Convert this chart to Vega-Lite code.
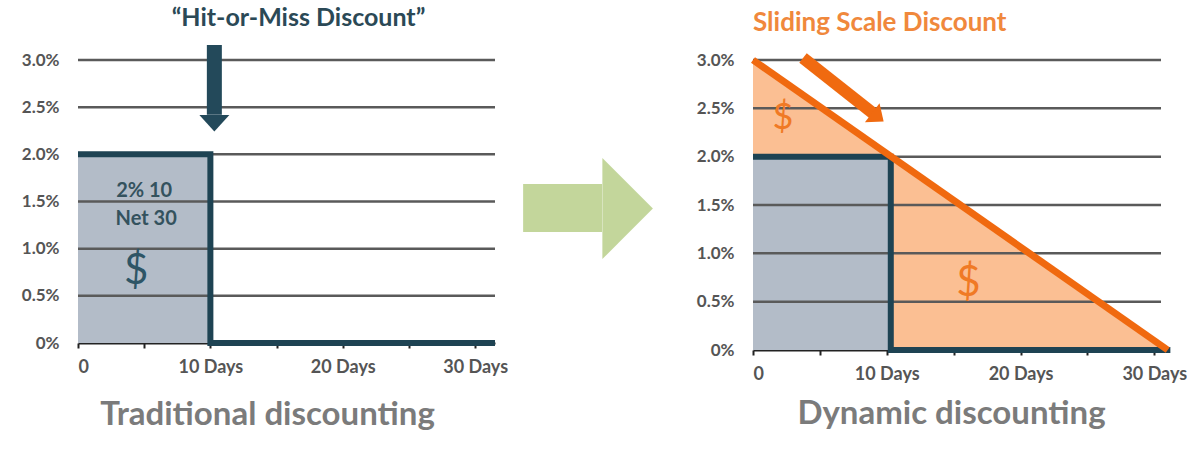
{
  "$schema": "https://vega.github.io/schema/vega-lite/v6.json",
  "background": "white",
  "padding": {"left": 21, "top": 6, "right": 0, "bottom": 0},
  "bounds": "flush",
  "spacing": 0,
  "config": {
    "view": {"stroke": null},
    "font": "Lato",
    "axisX": {"domainColor": "#222222", "domainWidth": 2, "tickColor": "#222222", "tickWidth": 2, "tickSize": 5, "labelFontSize": 18, "labelFontWeight": "bold", "labelColor": "#555555", "labelPadding": 10, "titleFontSize": 33, "titleFontWeight": "bold", "titleColor": "#7b7b7b", "grid": false, "zindex": 1},
    "axisY": {"domain": false, "ticks": false, "grid": false, "labelFontSize": 17, "labelFontWeight": "bold", "labelColor": "#555555", "labelPadding": 19}
  },
  "hconcat": [
    {
      "width": 417,
      "height": 283,
      "title": {"text": "“Hit-or-Miss Discount”", "fontSize": 25, "fontWeight": "bold", "color": "#2b4956", "offset": 6, "dx": 12, "frame": "group", "font": "Lato"},
      "layer": [
        {
          "data": {"values": [{"x": 0, "x2": 10, "y": 0, "y2": 2}]},
          "mark": {"type": "rect", "color": "#b3bcc8"},
          "encoding": {
            "x": {"field": "x", "type": "quantitative", "scale": {"domain": [0, 31.5], "nice": false},
              "axis": {"values": [0, 5, 10, 15, 20, 25, 30], "labelExpr": "datum.value == 0 ? '0' : (datum.value % 10 == 0 ? datum.value + ' Days' : '')", "title": "Traditional discounting", "titleX": 189, "titlePadding": 22}},
            "x2": {"field": "x2"},
            "y": {"field": "y", "type": "quantitative", "scale": {"domain": [0, 3], "nice": false},
              "axis": {"values": [0, 0.5, 1, 1.5, 2, 2.5, 3], "labelExpr": "datum.value == 0 ? '0%' : format(datum.value, '.1f') + '%'", "title": null}},
            "y2": {"field": "y2"}
          }
        },
        {
          "data": {"values": [{"y": 0.5}, {"y": 1}, {"y": 1.5}, {"y": 2}, {"y": 2.5}, {"y": 3}]},
          "mark": {"type": "rule", "color": "#5a5a5a", "strokeWidth": 2.5},
          "encoding": {"y": {"field": "y", "type": "quantitative"}}
        },
        {
          "data": {"values": [{"i": 0, "x": 0, "y": 2}, {"i": 1, "x": 10, "y": 2}, {"i": 2, "x": 10, "y": 0}, {"i": 3, "x": 31.5, "y": 0}]},
          "mark": {"type": "line", "color": "#1e4353", "strokeWidth": 6, "strokeJoin": "miter", "strokeCap": "butt"},
          "encoding": {"x": {"field": "x", "type": "quantitative"}, "y": {"field": "y", "type": "quantitative"}, "order": {"field": "i"}}
        },
        {
          "data": {"values": [{"x": 10.3, "y": 3.16, "y2": 2.42}]},
          "mark": {"type": "rule", "color": "#23495a", "strokeWidth": 15, "strokeCap": "butt"},
          "encoding": {"x": {"field": "x", "type": "quantitative"}, "y": {"field": "y", "type": "quantitative"}, "y2": {"field": "y2"}}
        },
        {
          "data": {"values": [{"x": 10.3, "y": 2.33}]},
          "mark": {"type": "point", "shape": "M-1,-0.55L1,-0.55L0,0.55Z", "size": 900, "filled": true, "opacity": 1, "color": "#23495a"},
          "encoding": {"x": {"field": "x", "type": "quantitative"}, "y": {"field": "y", "type": "quantitative"}}
        },
        {
          "data": {"values": [{"x": 5, "y": 1.61, "t": "2% 10"}, {"x": 5.15, "y": 1.31, "t": "Net 30"}]},
          "mark": {"type": "text", "fontSize": 20, "fontWeight": "bold", "color": "#34525e"},
          "encoding": {"x": {"field": "x", "type": "quantitative"}, "y": {"field": "y", "type": "quantitative"}, "text": {"field": "t"}}
        },
        {
          "data": {"values": [{"x": 4.4, "y": 0.76, "t": "$"}]},
          "mark": {"type": "text", "fontSize": 42, "color": "#2e5566"},
          "encoding": {"x": {"field": "x", "type": "quantitative"}, "y": {"field": "y", "type": "quantitative"}, "text": {"field": "t"}}
        }
      ]
    },
    {
      "width": 258,
      "height": 283,
      "layer": [
        {
          "data": {"values": [{"x": 10.9, "x2": 41.5, "y": 56.2, "y2": 39.2}]},
          "mark": {"type": "rect", "color": "#c3d69b"},
          "encoding": {
            "x": {"field": "x", "type": "quantitative", "scale": {"domain": [0, 100], "nice": false}, "axis": null},
            "x2": {"field": "x2"},
            "y": {"field": "y", "type": "quantitative", "scale": {"domain": [0, 100], "nice": false}, "axis": null},
            "y2": {"field": "y2"}
          }
        },
        {
          "data": {"values": [{"x": 51.4, "y": 47.5}]},
          "mark": {"type": "point", "shape": "M-0.5,-1L0.5,0L-0.5,1Z", "size": 10201, "filled": true, "opacity": 1, "color": "#c3d69b"},
          "encoding": {
            "x": {"field": "x", "type": "quantitative"},
            "y": {"field": "y", "type": "quantitative"}
          }
        }
      ]
    },
    {
      "width": 408,
      "height": 290,
      "title": {"text": "Sliding Scale Discount", "fontSize": 26, "fontWeight": "bold", "color": "#f0883c", "anchor": "start", "frame": "group", "offset": 10, "font": "Lato"},
      "layer": [
        {
          "data": {"values": [{"x": 0, "y": 3}, {"x": 31, "y": 0}]},
          "mark": {"type": "area", "color": "#fbbf93", "opacity": 1},
          "encoding": {
            "x": {"field": "x", "type": "quantitative", "scale": {"domain": [0, 30.5], "nice": false},
              "axis": {"values": [0, 5, 10, 15, 20, 25, 30], "labelExpr": "datum.value == 0 ? '0' : (datum.value % 10 == 0 ? datum.value + ' Days' : '')", "title": "Dynamic discounting", "titleX": 198, "titlePadding": 14}},
            "y": {"field": "y", "type": "quantitative", "scale": {"domain": [0, 3], "nice": false},
              "axis": {"values": [0, 0.5, 1, 1.5, 2, 2.5, 3], "labelExpr": "datum.value == 0 ? '0%' : format(datum.value, '.1f') + '%'", "title": null}}
          }
        },
        {
          "data": {"values": [{"x": 0, "x2": 10.3, "y": 0, "y2": 2}]},
          "mark": {"type": "rect", "color": "#b3bcc8"},
          "encoding": {"x": {"field": "x", "type": "quantitative"}, "x2": {"field": "x2"}, "y": {"field": "y", "type": "quantitative"}, "y2": {"field": "y2"}}
        },
        {
          "data": {"values": [{"y": 0.5}, {"y": 1}, {"y": 1.5}, {"y": 2}, {"y": 2.5}, {"y": 3}]},
          "mark": {"type": "rule", "color": "#5a5a5a", "strokeWidth": 2.5},
          "encoding": {"y": {"field": "y", "type": "quantitative"}}
        },
        {
          "data": {"values": [{"i": 0, "x": 0, "y": 2}, {"i": 1, "x": 10.3, "y": 2}, {"i": 2, "x": 10.3, "y": 0}, {"i": 3, "x": 31.2, "y": 0}]},
          "mark": {"type": "line", "color": "#1e4353", "strokeWidth": 6, "strokeJoin": "miter", "strokeCap": "butt"},
          "encoding": {"x": {"field": "x", "type": "quantitative"}, "y": {"field": "y", "type": "quantitative"}, "order": {"field": "i"}}
        },
        {
          "data": {"values": [{"i": 0, "x": 0, "y": 3}, {"i": 1, "x": 31, "y": 0}]},
          "mark": {"type": "line", "color": "#f0690f", "strokeWidth": 7, "strokeCap": "butt"},
          "encoding": {"x": {"field": "x", "type": "quantitative"}, "y": {"field": "y", "type": "quantitative"}, "order": {"field": "i"}}
        },
        {
          "data": {"values": [{"x": 3.74, "y": 3.02, "x2": 8.97, "y2": 2.45}]},
          "mark": {"type": "rule", "color": "#f06a10", "strokeWidth": 12, "strokeCap": "butt"},
          "encoding": {"x": {"field": "x", "type": "quantitative"}, "y": {"field": "y", "type": "quantitative"}, "x2": {"field": "x2"}, "y2": {"field": "y2"}}
        },
        {
          "data": {"values": [{"x": 9.34, "y": 2.41}]},
          "mark": {"type": "point", "shape": "M-0.6,-1L0.6,0L-0.6,1Z", "size": 576, "angle": 37.5, "filled": true, "opacity": 1, "color": "#f06a10"},
          "encoding": {"x": {"field": "x", "type": "quantitative"}, "y": {"field": "y", "type": "quantitative"}}
        },
        {
          "data": {"values": [{"x": 2.24, "y": 2.4, "t": "$", "s": 36}, {"x": 16.1, "y": 0.69, "t": "$", "s": 42}]},
          "mark": {"type": "text", "color": "#f07a25"},
          "encoding": {"x": {"field": "x", "type": "quantitative"}, "y": {"field": "y", "type": "quantitative"}, "text": {"field": "t"}, "size": {"field": "s", "type": "quantitative", "scale": null, "legend": null}}
        }
      ]
    }
  ]
}
